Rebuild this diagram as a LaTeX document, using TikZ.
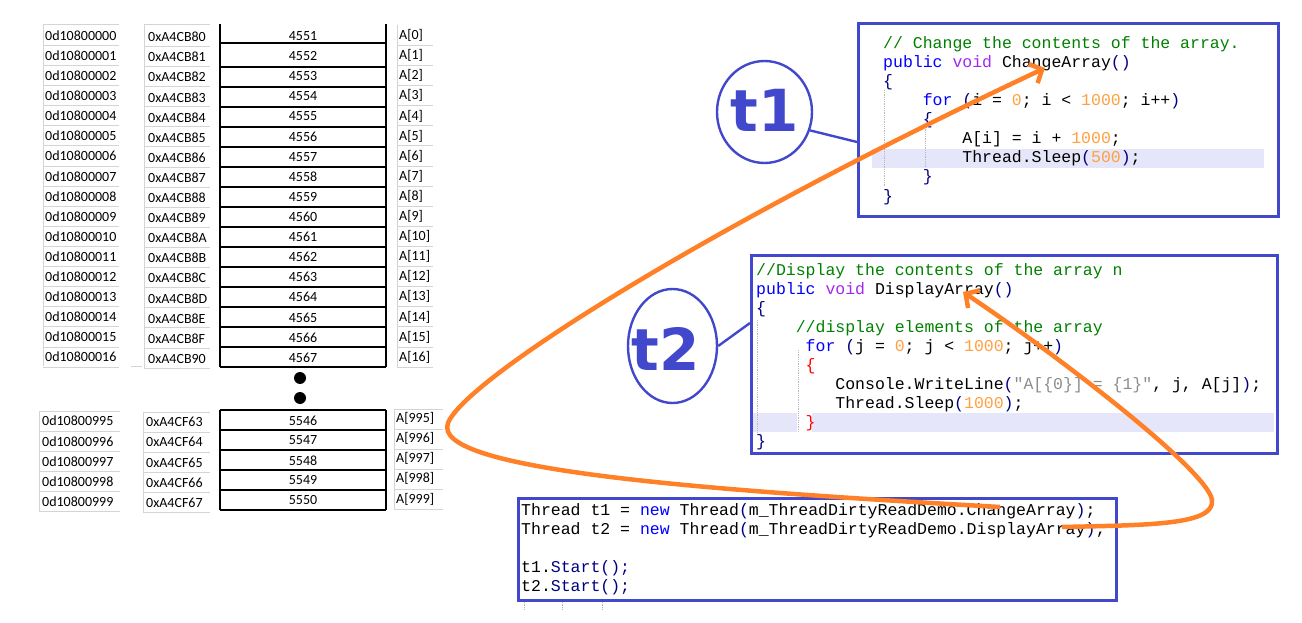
\documentclass[tikz,border=0pt]{standalone}
\usepackage{fontspec}
\setmainfont{Carlito}
\setmonofont{Liberation Mono}
\newfontfamily\tfont{DejaVu Sans}
\usetikzlibrary{shapes.geometric,arrows.meta}
\definecolor{frameblue}{RGB}{65,72,204}
\definecolor{gridgray}{RGB}{212,212,212}
\definecolor{arrorange}{RGB}{255,128,38}
\definecolor{cmgreen}{RGB}{0,128,0}
\definecolor{kwblue}{RGB}{0,0,255}
\definecolor{vdpurple}{RGB}{160,40,240}
\definecolor{pnavy}{RGB}{0,0,128}
\definecolor{numorange}{RGB}{255,160,64}
\definecolor{strgray}{RGB}{140,140,140}
\definecolor{hlcol}{RGB}{230,230,250}
\definecolor{brred}{RGB}{255,0,0}
\newcommand\cCm[1]{\textcolor{cmgreen}{#1}}
\newcommand\cKw[1]{\textcolor{kwblue}{#1}}
\newcommand\cVd[1]{\textcolor{vdpurple}{#1}}
\newcommand\cPu[1]{\textcolor{pnavy}{#1}}
\newcommand\cNum[1]{\textcolor{numorange}{#1}}
\newcommand\cStr[1]{\textcolor{strgray}{#1}}
\newcommand\cRd[1]{\textcolor{brred}{#1}}
\begin{document}
\begin{tikzpicture}[x=1pt,y=-1pt,
  cell/.style={font=\fontsize{14}{14}\selectfont, inner sep=0pt, anchor=west},
  valcell/.style={font=\fontsize{14}{14}\selectfont, inner sep=0pt, anchor=center},
  gline/.style={draw=gridgray, line width=1pt},
  bline/.style={draw=black, line width=1.1pt},
  code/.style={font=\ttfamily\fontsize{16.5}{16.5}\selectfont, anchor=base west, inner sep=0pt},
  codebox/.style={draw=frameblue, line width=3.2pt, anchor=north west, inner sep=0pt},
  hl/.style={fill=hlcol, draw=none},
  guide/.style={draw=gray!55, densely dotted, line width=0.8pt},
  ell/.style={ellipse, draw=frameblue, line width=2.4pt, inner sep=0pt},
  tlab/.style={font=\tfont\bfseries\fontsize{58}{58}\selectfont, text=frameblue, inner sep=0pt, anchor=base},
  conn/.style={draw=frameblue, line width=2.4pt},
  orarrow/.style={draw=arrorange, line width=4.5pt, -{Straight Barb[length=10pt,width=21pt]}},
  dot/.style={circle, fill=black, inner sep=0pt, minimum size=12pt}
]
\useasboundingbox (0,0) rectangle (1302,623);

% ---------------- top part of the memory table ----------------
\draw[gline] (43,25) -- (43,366);
\draw[gline] (43,25) -- (119,25);
\draw[gline] (144,25) -- (144,368);
\draw[gline] (144,25) -- (210,25);
\draw[gline] (397,25) -- (397,367);
\draw[gline] (131,366) -- (142,366);
\draw[bline] (220,24) -- (220,367);
\draw[bline] (386,24) -- (386,367);
\draw[bline] (220,43) -- (386,43);
\foreach \k in {0,...,16}{
  \draw[gline] (43,45.5+20.1*\k) -- (119,45.5+20.1*\k);
  \draw[gline] (144,46.5+20.1*\k) -- (210,46.5+20.1*\k);
  \draw[gline] (397,45.5+20.1*\k) -- (433,45.5+20.1*\k);
}
\foreach \k in {0,...,15}{
  \draw[bline] (220,67+20*\k) -- (386,67+20*\k);
}
\foreach \k/\h in {0/80,1/81,2/82,3/83,4/84,5/85,6/86,7/87,8/88,9/89,10/8A,11/8B,12/8C,13/8D,14/8E,15/8F,16/90}{
  \pgfmathtruncatemacro\vv{4551+\k}
  \node[cell] (dec\k) at (45,35.5+20.1*\k) {0d108000\ifnum\k<10 0\fi\k};
  \node[cell] (hex\k) at (148,37+20.1*\k) {0xA4CB\h};
  \node[valcell] (val\k) at (303,36+20.1*\k) {\vv};
  \node[cell] (arr\k) at (399,35.5+20.1*\k) {A[\k]};
}

% ---------------- ellipsis dots ----------------
\node[dot] (dotA) at (300,378) {};
\node[dot] (dotB) at (300,398) {};

% ---------------- bottom part of the memory table ----------------
\draw[gline] (39,411) -- (39,511);
\draw[gline] (39,411) -- (120,411);
\draw[gline] (143,412) -- (143,512);
\draw[gline] (143,412) -- (210,412);
\draw[gline] (394,409) -- (394,509);
\draw[gline] (394,409) -- (443,409);
\draw[bline] (220,410) -- (220,510);
\draw[bline] (386,410) -- (386,510);
\foreach \k in {0,...,5}{
  \draw[bline] (220,410+20*\k) -- (386,410+20*\k);
}
\foreach \k in {0,...,4}{
  \draw[gline] (39,431+20*\k) -- (120,431+20*\k);
  \draw[gline] (143,432+20*\k) -- (210,432+20*\k);
  \draw[gline] (394,429+20*\k) -- (443,429+20*\k);
}
\foreach \k/\h in {0/63,1/64,2/65,3/66,4/67}{
  \pgfmathtruncatemacro\ii{995+\k}
  \pgfmathtruncatemacro\vv{5546+\k}
  \node[cell] (bdec\k) at (42,421+20.2*\k) {0d10800\ii};
  \node[cell] (bhex\k) at (146,422+20.2*\k) {0xA4CF\h};
  \node[valcell] (bval\k) at (303,420.5+20*\k) {\vv};
  \node[cell] (barr\k) at (396,418.5+20.1*\k) {A[\ii]};
}

% ---------------- code box t1 ----------------
\fill[hl] (872,149) rectangle (1264,168);
\draw[guide] (884,90) -- (884,187);
\draw[guide] (925,125) -- (925,167);
\node[codebox, minimum width=420pt, minimum height=193pt] (box1) at (857,22) {};
\node[code] (c1a) at (883,49) {\cCm{// Change the contents of the array.}};
\node[code] (c1b) at (883,68) {\cKw{public} \cVd{void} ChangeArray\cPu{()}};
\node[code] (c1c) at (883,87) {\cPu{\{}};
\node[code] (c1d) at (922.6,106) {\cKw{for} \cPu{(}i = \cNum{0}; i < \cNum{1000}; i++\cPu{)}};
\node[code] (c1e) at (922.6,125) {\cPu{\{}};
\node[code] (c1f) at (962.2,144) {A[i] = i + \cNum{1000};};
\node[code] (c1g) at (962.2,163) {Thread.Sleep\cPu{(}\cNum{500}\cPu{)};};
\node[code] (c1h) at (922.6,182) {\cPu{\}}};
\node[code] (c1i) at (883,201) {\cPu{\}}};

% ---------------- code box t2 ----------------
\fill[hl] (752,413) rectangle (797,432);
\fill[hl] (812,413) rectangle (1274,432);
\draw[guide] (757,320) -- (757,432);
\draw[guide] (798,350) -- (798,432);
\node[codebox, minimum width=526pt, minimum height=198pt] (box2) at (750,254) {};
\node[code] (c2a) at (756,275) {\cCm{//Display the contents of the array n}};
\node[code] (c2b) at (756,294) {\cKw{public} \cVd{void} DisplayArray\cPu{()}};
\node[code] (c2c) at (756,313) {\cPu{\{}};
\node[code] (c2d) at (795.6,332) {\cCm{//display elements of the array}};
\node[code] (c2e) at (805.5,351) {\cKw{for} \cPu{(}j = \cNum{0}; j < \cNum{1000}; j++\cPu{)}};
\node[code] (c2f) at (805.5,370) {\cRd{\{}};
\node[code] (c2g) at (835.2,389) {Console.WriteLine\cPu{(}\cStr{"A[\{0\}] = \{1\}"}, j, A[j]\cPu{)};};
\node[code] (c2h) at (835.2,408) {Thread.Sleep\cPu{(}\cNum{1000}\cPu{)};};
\node[code] (c2i) at (805.5,427) {\cRd{\}}};
\node[code] (c2j) at (756,446) {\cPu{\}}};

% ---------------- main code box ----------------
\draw[guide] (524,600) -- (524,610);
\draw[guide] (562,600) -- (562,610);
\draw[guide] (602,600) -- (602,610);
\node[codebox, minimum width=598pt, minimum height=102pt] (box3) at (517,497) {};
\node[code] (c3a) at (521,515) {Thread t1 = \cKw{new} Thread\cPu{(}m\_ThreadDirtyReadDemo.ChangeArray\cPu{)};};
\node[code] (c3b) at (521,534) {Thread t2 = \cKw{new} Thread\cPu{(}m\_ThreadDirtyReadDemo.DisplayArray\cPu{)};};
\node[code] (c3c) at (521,572) {t1.\cPu{Start();}};
\node[code] (c3d) at (521,591) {t2.\cPu{Start();}};

% ---------------- thread labels ----------------
\node[ell, minimum width=95pt, minimum height=102pt] (t1e) at (764.5,112) {};
\node[tlab] (t1t) at (764.5,132) {t1};
\node[ell, minimum width=89pt, minimum height=114pt] (t2e) at (672.5,346) {};
\node[tlab] (t2t) at (666,370) {t2};
\coordinate (b1c) at (857,142);
\coordinate (b2c) at (750,323);
\draw[conn] (t1e.-22) -- (b1c);
\draw[conn] (t2e.0) -- (b2c);

% ---------------- orange arrows ----------------
\coordinate (o1s) at (1000,507);
\coordinate (o1m) at (448,423);
\coordinate (o1e) at (1045,68);
\draw[orarrow] (o1s) .. controls (700,490) and (430,470) .. (o1m) .. controls (465,380) and (700,230) .. (o1e);
\coordinate (o2s) at (1062,527);
\coordinate (o2m) at (1212,500);
\coordinate (o2e) at (963,292);
\draw[orarrow] (o2s) .. controls (1150,525) and (1215,525) .. (o2m) .. controls (1208,470) and (1050,350) .. (o2e);
\end{tikzpicture}
\end{document}
